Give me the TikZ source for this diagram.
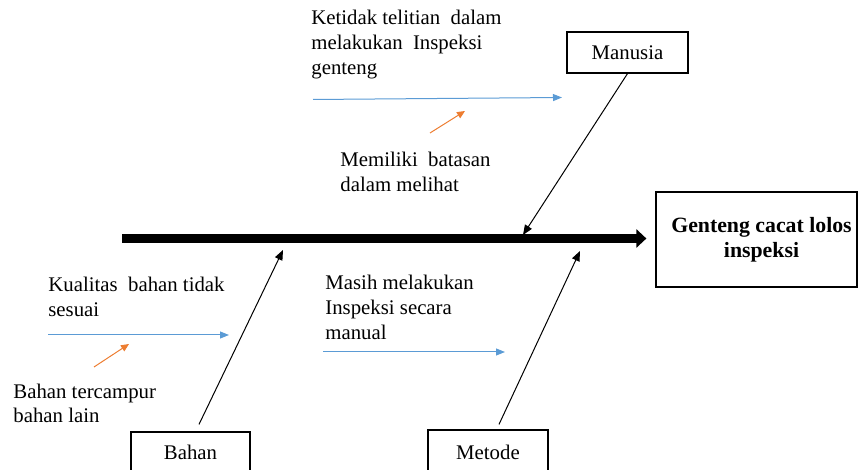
\documentclass[tikz,border=0pt]{standalone}
\usepackage{fontspec}
\setmainfont{Liberation Serif}
\usepackage{tikz}
\usetikzlibrary{positioning, arrows.meta, calc}

\definecolor{panahbiru}{RGB}{91,155,213}
\definecolor{panahoranye}{RGB}{237,125,49}

\begin{document}
\begin{tikzpicture}[x=0.5pt,y=0.5pt,yscale=-1,
  font=\fontsize{10.4}{12.5}\selectfont,
  kotak/.style={draw, line width=0.6pt, inner sep=0pt, align=center},
  teks/.style={anchor=base west, inner sep=0pt, align=left},
  tulang/.style={line width=4.25pt, -{Triangle[length=5pt,width=9pt]}},
  cabang/.style={line width=0.5pt, -{Triangle[length=5pt,width=4pt]}},
  subbiru/.style={color=panahbiru, line width=0.5pt, -{Triangle[length=4.5pt,width=3.5pt]}},
  suboranye/.style={color=panahoranye, line width=0.5pt, -{Triangle[length=4pt,width=3.5pt]}}]
\useasboundingbox (0,0) rectangle (858,470);

% Kotak kategori
\node [kotak, minimum width=60.5pt, minimum height=20.5pt] (manusia) at (627.5,52.5) {Manusia};
\node [kotak, minimum width=59.5pt, minimum height=20pt] (bahan) at (190.5,452) {Bahan};
\node [kotak, minimum width=60pt, minimum height=22pt] (metode) at (488,452) {Metode};
% Kotak akibat
\node [kotak, minimum width=100.5pt, minimum height=47.5pt, font=\fontsize{10.9}{12.5}\selectfont\bfseries] (akibat) at (756.5,239.5) {\hspace*{5pt}Genteng cacat lolos\\\hspace*{5pt}inspeksi};

% Tulang utama
\coordinate (ekor) at (122,238.5);
\draw [tulang, shorten >=4.5pt] (ekor) -- (ekor -| akibat.west);

% Cabang
\coordinate (pManusia) at (523,235);
\coordinate (pBahan) at (283,250);
\coordinate (pMetode) at (580,251);
\draw [cabang] (manusia.south) -- (pManusia);
\draw [cabang] ($(bahan.north)+(8.5,-7)$) -- (pBahan);
\draw [cabang] ($(metode.north)+(11,-5)$) -- (pMetode);

% Sub cabang
\coordinate (biruA1) at (313,99.5);
\coordinate (biruA2) at (562,97.5);
\coordinate (oranyeA1) at (430,133);
\coordinate (oranyeA2) at (465,111);
\coordinate (biruB1) at (48,335);
\coordinate (biruB2) at (229,335);
\coordinate (oranyeB1) at (94,367);
\coordinate (oranyeB2) at (129,344);
\coordinate (biruC1) at (323,352);
\coordinate (biruC2) at (505,352);
\draw [subbiru] (biruA1) -- (biruA2);
\draw [suboranye] (oranyeA1) -- (oranyeA2);
\draw [subbiru] (biruB1) -- (biruB2);
\draw [suboranye] (oranyeB1) -- (oranyeB2);
\draw [subbiru] (biruC1) -- (biruC2);

% Text Node (base = baris terakhir)
\node [teks] (ketelitian) at (311,75) {Ketidak telitian\ \ dalam\\melakukan\ \ Inspeksi\\genteng};
% Text Node
\node [teks] (batasan) at (340,192) {Memiliki\ \ batasan\\dalam melihat};
% Text Node
\node [teks] (kualitas) at (48,317) {Kualitas\ \ bahan tidak\\sesuai};
% Text Node
\node [teks] (tercampur) at (13,423) {Bahan tercampur\\bahan lain};
% Text Node
\node [teks] (manual) at (325,340) {Masih melakukan\\Inspeksi secara\\manual};

\end{tikzpicture}
\end{document}
